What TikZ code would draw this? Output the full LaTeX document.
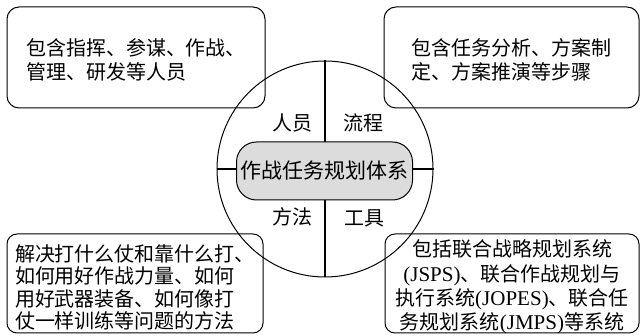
\documentclass[tikz,border=0pt]{standalone}
\usepackage{fontspec}
\setmainfont{Liberation Serif}
\newfontfamily\cjk{Noto Sans CJK SC}
\newfontfamily\lat{Liberation Serif}
\definecolor{coregray}{HTML}{DCDCDC}
\tikzset{
  infobox/.style={draw, line width=1pt, rounded corners=12pt, inner sep=0pt},
  infotext/.style={inner sep=0pt, font=\cjk\fontsize{20}{24}\selectfont},
  tag/.style={inner sep=0pt, font=\cjk\fontsize{20}{24}\selectfont},
  core/.style={draw, line width=1pt, fill=coregray, rounded corners=20pt,
    minimum width=176pt, minimum height=58pt, inner sep=0pt,
    font=\cjk\fontsize{21}{24}\selectfont},
  ring/.style={circle, draw, line width=1pt, minimum size=216pt, inner sep=0pt},
  cross/.style={line width=1.6pt}
}
\begin{document}
\begin{tikzpicture}[x=1pt,y=-1pt]
\useasboundingbox (0,0) rectangle (640,336);
% circle and cross
\node[ring] (ring) at (325,169) {};
\draw[cross] (ring.north) -- (ring.south);
\draw[cross] (ring.west) -- (ring.east);
\node[core] (core) at (324.5,171) {作战任务规划体系};
% quadrant labels
\node[tag] (people) at (292,123) {人员};
\node[tag] (flow) at (363,123) {流程};
\node[tag] (method) at (292,217) {方法};
\node[tag] (tool) at (364,218) {工具};
% info boxes
\node[infobox, minimum width=258pt, minimum height=101pt] (tl) at (136,57.5) {};
\node[infotext, align=left] (tltext) at ([yshift=-2.5pt]tl.center)
  {包含指挥、参谋、作战、\\管理、研发等人员};
\node[infobox, minimum width=255pt, minimum height=101pt] (tr) at (511.5,57.5) {};
\node[infotext, align=left] (trtext) at ([yshift=-2.5pt]tr.center)
  {包含任务分析、方案制\\定、方案推演等步骤};
\node[infobox, rounded corners=10pt, minimum width=256pt, minimum height=99pt] (bl) at (135,283.5) {};
\node[infotext, align=left, font=\cjk\fontsize{20}{22.2}\selectfont] (bltext) at ([yshift=-4pt]bl.center)
  {解决打什么仗和靠什么打、\\如何用好作战力量、如何\\用好武器装备、如何像打\\仗一样训练等问题的方法};
\node[infobox, rounded corners=10pt, minimum width=254pt, minimum height=99pt] (br) at (512,283.5) {};
\node[infotext, align=center, font=\cjk\fontsize{20}{24.3}\selectfont] (brtext) at ([yshift=-3.5pt]br.center)
  {包括联合战略规划系统\\{\lat\fontsize{21}{24}\selectfont(JSPS)}、联合作战规划与\\执行系统{\lat\fontsize{21}{24}\selectfont(JOPES)}、联合任\\务规划系统{\lat\fontsize{21}{24}\selectfont(JMPS)}等系统};
\end{tikzpicture}
\end{document}
